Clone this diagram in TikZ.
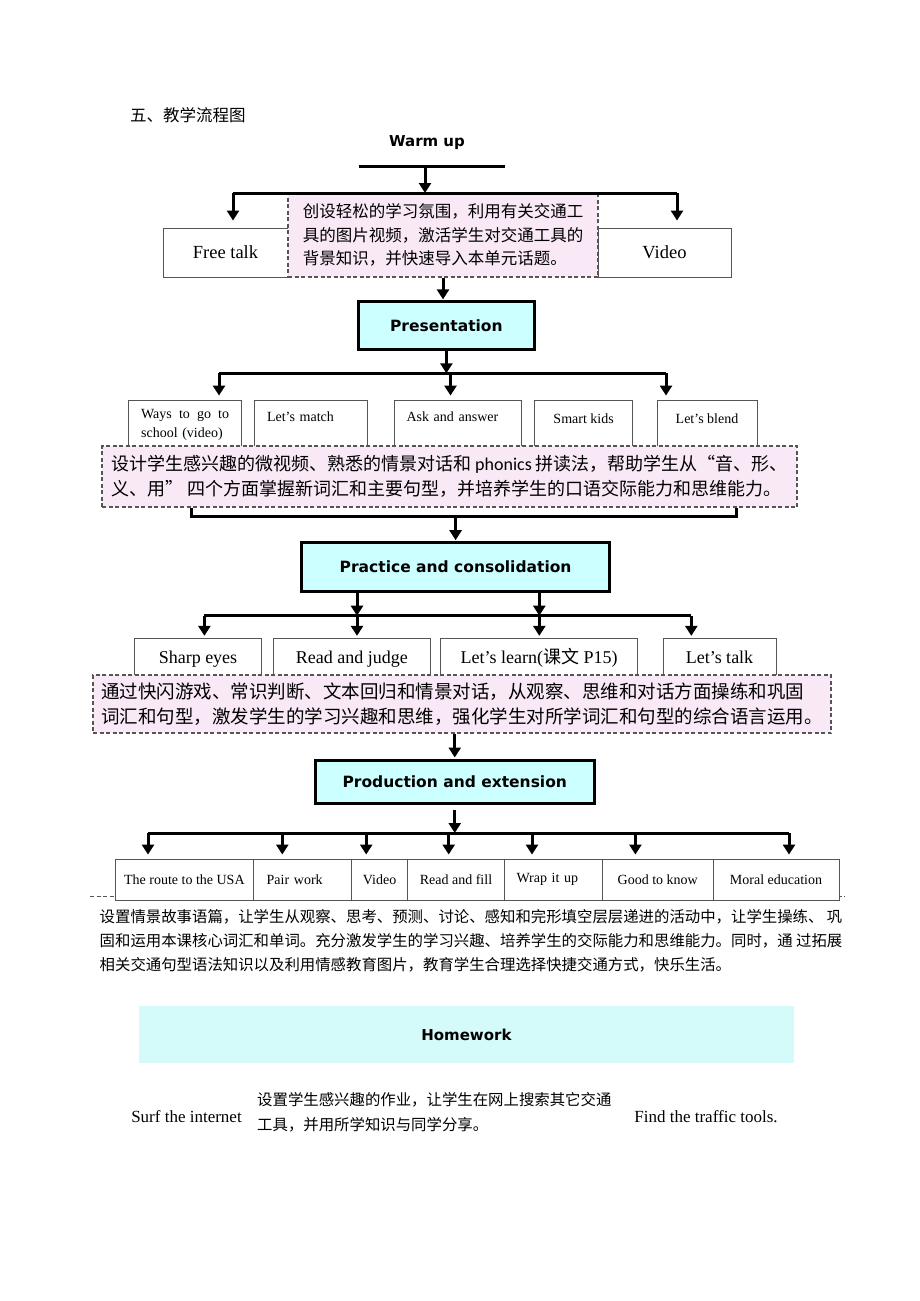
\documentclass[tikz,border=0pt]{standalone}
\usepackage{fontspec}
\setmainfont{Liberation Serif}
\newfontfamily\cjk{Noto Sans CJK SC}
\newfontfamily\hd{DejaVu Sans}
\newfontfamily\lat{Carlito}
\usetikzlibrary{arrows.meta}
\definecolor{hcyan}{RGB}{204,255,255}
\definecolor{dpink}{RGB}{249,233,247}
\definecolor{hwcyan}{RGB}{212,250,250}
\definecolor{bgray}{RGB}{85,85,85}
\tikzset{
  bus/.style={line width=3pt},
  arr/.style={line width=3pt,-{Triangle[width=12pt,length=10pt]},shorten >=4pt},
  hbox/.style={draw,line width=3pt,fill=hcyan,inner sep=0pt,font=\hd\bfseries\fontsize{15.5}{18}\selectfont},
  box/.style={draw=bgray,line width=0.9pt,fill=white,inner sep=0pt},
  dbox/.style={draw=bgray,line width=1.1pt,dash pattern=on 4pt off 2.5pt,fill=dpink,inner sep=0pt},
  dline/.style={draw=bgray,line width=1pt,dash pattern=on 4pt off 2.5pt},
}
\begin{document}
\begin{tikzpicture}[x=1pt,y=-1pt]
\useasboundingbox (0,0) rectangle (920,1301);
\node[anchor=west,inner sep=0pt,font=\cjk\fontsize{16.5}{20}\selectfont] (ttl) at (130,115) {五、教学流程图};

\node[font=\hd\bfseries\fontsize{15}{18}\selectfont] (wu) at (427,142.4) {Warm up};
\coordinate (wl) at (358.7,166.4);
\coordinate (wr) at (504.5,166.4);
\coordinate (b1l) at (233,193);
\coordinate (b1m) at (425,193);
\coordinate (b1r) at (677,193);
\node[box,minimum width=125pt,minimum height=49pt,font=\fontsize{18.5}{20}\selectfont] (ft) at (225.5,252.5) {Free talk};
\node[box,minimum width=133pt,minimum height=49pt,font=\fontsize{18.5}{20}\selectfont] (vid) at (664.5,252.5) {Video};
\node[dbox,minimum width=310pt,minimum height=84pt,align=left,font=\cjk\fontsize{16.5}{23.6}\selectfont] (d1) at (443,235) {创设轻松的学习氛围，利用有关交通工\\具的图片视频，激活学生对交通工具的\\背景知识，并快速导入本单元话题。};
\draw[bus] (wl) -- (wr);
\draw[bus] (b1l) -- (b1r);
\draw[arr,shorten >=0pt] (wl -| b1m) -- (b1m);
\draw[arr,shorten >=7pt] (b1l) -- (b1l |- ft.north);
\draw[arr,shorten >=7pt] (b1r) -- (b1r |- vid.north);

\node[hbox,minimum width=176pt,minimum height=48pt] (pres) at (446.4,325.9) {Presentation};
\draw[arr,shorten >=1pt] (d1.south) -- (d1.south |- pres.north);
\coordinate (b2l) at (219,373.3);
\coordinate (b2m) at (450.5,373.3);
\coordinate (b2r) at (666,373.3);
\draw[bus] (b2l) -- (b2r);
\draw[arr,shorten >=0pt] (pres.south) -- (pres.south |- b2l);

\node[box,minimum width=113pt,minimum height=49pt,text width=88pt,align=left,font=\fontsize{14}{19}\selectfont] (w1) at (185.1,424.5) {Ways\hfill to\hfill go\hfill to\\school (video)};
\node[box,minimum width=113pt,minimum height=49pt,text width=88pt,align=left,text height=10pt,text depth=17pt,font=\fontsize{14}{17}\selectfont] (w2) at (311,424.5) {Let’s match};
\node[box,minimum width=127pt,minimum height=49pt,text width=102pt,align=left,text height=10pt,text depth=17pt,font=\fontsize{14}{17}\selectfont] (w3) at (457.5,424.5) {Ask and answer};
\node[box,minimum width=98pt,minimum height=49pt,text height=10pt,text depth=12pt,font=\fontsize{14}{17}\selectfont] (w4) at (583.6,424.5) {Smart kids};
\node[box,minimum width=100pt,minimum height=49pt,text height=10pt,text depth=12pt,font=\fontsize{14}{17}\selectfont] (w5) at (707,424.5) {Let’s blend};
\draw[arr] (b2l) -- (b2l |- w1.north);
\draw[arr] (b2m) -- (b2m |- w3.north);
\draw[arr] (b2r) -- (b2r |- w5.north);
\node[dbox,minimum width=695pt,minimum height=61pt,align=left,font=\cjk\fontsize{18}{25}\selectfont] (d2) at (449.5,476.5) {设计学生感兴趣的微视频、熟悉的情景对话和 {\lat phonics} 拼读法，帮助学生从“音、形、\\义、用” 四个方面掌握新词汇和主要句型，并培养学生的口语交际能力和思维能力。};

\coordinate (k1) at (191,516.7);
\coordinate (k2) at (736,516.7);
\draw[bus] (k1 |- d2.south) -- (k1) -- (k2) -- (k2 |- d2.south);
\node[hbox,minimum width=308pt,minimum height=49pt] (prac) at (455.6,567.2) {Practice and consolidation};
\draw[arr,shorten >=1pt] (prac |- k1) -- (prac.north);

\coordinate (b3a) at (204.4,615.7);
\coordinate (b3b) at (357,615.7);
\coordinate (b3c) at (539.3,615.7);
\coordinate (b3d) at (691.3,615.7);
\draw[bus] (b3a) -- (b3d);
\draw[arr,shorten >=0pt] (b3b |- prac.south) -- (b3b);
\draw[arr,shorten >=0pt] (b3c |- prac.south) -- (b3c);
\node[box,minimum width=127.4pt,minimum height=36.7pt,text height=16.7pt,text depth=4pt,font=\fontsize{18}{20}\selectfont] (s1) at (198,656.65) {Sharp eyes};
\node[box,minimum width=156.5pt,minimum height=36.7pt,text height=16.7pt,text depth=4pt,font=\fontsize{18}{20}\selectfont] (s2) at (351.75,656.65) {Read and judge};
\node[box,minimum width=196.6pt,minimum height=36.7pt,text height=16.7pt,text depth=4pt,font=\fontsize{18}{20}\selectfont] (s3) at (539.1,656.65) {Let’s learn({\cjk 课文} P15)};
\node[box,minimum width=113pt,minimum height=36.7pt,text height=16.7pt,text depth=4pt,font=\fontsize{18}{20}\selectfont] (s4) at (719.5,656.65) {Let’s talk};
\draw[arr,shorten >=2pt] (b3a) -- (b3a |- s1.north);
\draw[arr,shorten >=2pt] (b3b) -- (b3b |- s2.north);
\draw[arr,shorten >=2pt] (b3c) -- (b3c |- s3.north);
\draw[arr,shorten >=2pt] (b3d) -- (b3d |- s4.north);
\node[dbox,minimum width=738pt,minimum height=58pt,align=left,font=\cjk\fontsize{18.5}{25}\selectfont] (d3) at (462,704) {通过快闪游戏、常识判断、文本回归和情景对话，从观察、思维和对话方面操练和巩固\\词汇和句型，激发学生的学习兴趣和思维，强化学生对所学词汇和句型的综合语言运用。};

\node[hbox,minimum width=279pt,minimum height=43.3pt] (prod) at (454.75,781.65) {Production and extension};
\draw[arr,shorten >=1pt] (d3.south -| prod) -- (prod.north);
\coordinate (c1) at (148,833);
\coordinate (c2) at (282.3,833);
\coordinate (c3) at (366.2,833);
\coordinate (c4) at (448.7,833);
\coordinate (c5) at (532,833);
\coordinate (c6) at (635.4,833);
\coordinate (c7) at (789,833);
\draw[bus] (c1) -- (c7);
\draw[arr,shorten <=5pt,shorten >=0pt] (prod.south) -- (prod.south |- c1);

\draw[dline] (90,896) -- (845,896);
\node[box,minimum width=138.7pt,minimum height=41pt,font=\fontsize{14}{17}\selectfont] (r1) at (184.35,879.5) {The route to the USA};
\node[box,minimum width=98pt,minimum height=41pt,text width=72pt,align=left,font=\fontsize{14}{17}\selectfont] (r2) at (302.7,879.5) {Pair work};
\node[box,minimum width=55.8pt,minimum height=41pt,font=\fontsize{14}{17}\selectfont] (r3) at (379.6,879.5) {Video};
\node[box,minimum width=97pt,minimum height=41pt,font=\fontsize{14}{17}\selectfont] (r4) at (456,879.5) {Read and fill};
\node[box,minimum width=97.9pt,minimum height=41pt,text width=73.9pt,align=left,font=\fontsize{14}{17}\selectfont] (r5) at (553.45,879.5) {Wrap it up};
\node[box,minimum width=110.6pt,minimum height=41pt,font=\fontsize{14}{17}\selectfont] (r6) at (657.7,879.5) {Good to know};
\node[box,minimum width=126pt,minimum height=41pt,font=\fontsize{14}{17}\selectfont] (r7) at (776,879.5) {Moral education};
\foreach \c/\r in {c1/r1,c2/r2,c3/r3,c4/r4,c5/r5,c6/r6,c7/r7}
  \draw[arr] (\c) -- (\c |- \r.north);

\node[anchor=west,inner sep=0pt,align=left,font=\cjk\fontsize{15.4}{24.2}\selectfont] (para) at (99.5,940.5) {设置情景故事语篇，让学生从观察、思考、预测、讨论、感知和完形填空层层递进的活动中，让学生操练、 巩\\固和运用本课核心词汇和单词。充分激发学生的学习兴趣、培养学生的交际能力和思维能力。同时，通 过拓展\\相关交通句型语法知识以及利用情感教育图片，教育学生合理选择快捷交通方式，快乐生活。};

\node[fill=hwcyan,minimum width=655.2pt,minimum height=57.3pt,font=\hd\bfseries\fontsize{15}{18}\selectfont] (hw) at (466.4,1034.65) {Homework};
\node[font=\fontsize{17}{20}\selectfont] (surf) at (186.5,1116.7) {Surf the internet};
\node[anchor=west,inner sep=0pt,align=left,font=\cjk\fontsize{15.4}{25}\selectfont] (hwt) at (257,1112.5) {设置学生感兴趣的作业，让学生在网上搜索其它交通\\工具，并用所学知识与同学分享。};
\node[font=\fontsize{17}{20}\selectfont] (find) at (706,1116.7) {Find the traffic tools.};
\end{tikzpicture}
\end{document}
